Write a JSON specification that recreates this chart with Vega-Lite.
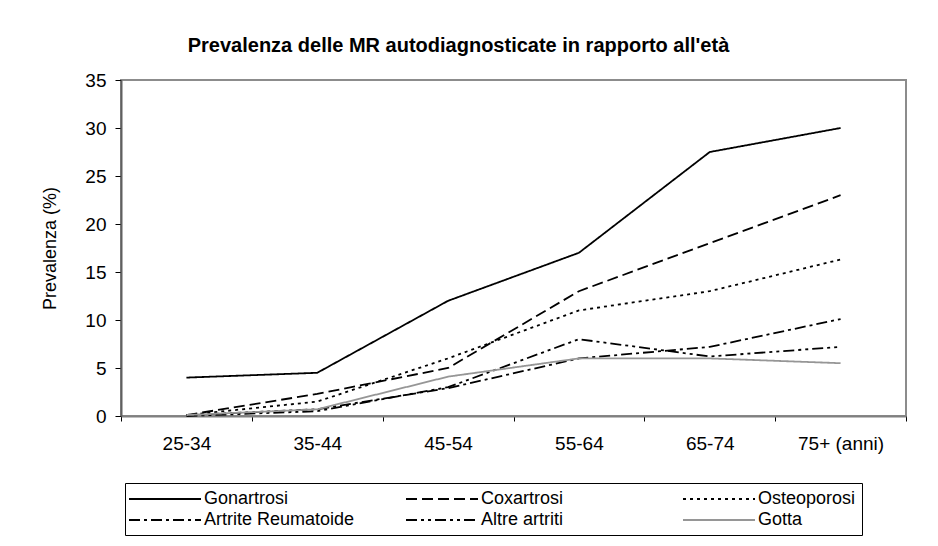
{
  "$schema": "https://vega.github.io/schema/vega-lite/v6.json",
  "width": 785,
  "height": 336,
  "autosize": "none",
  "padding": {"left": 121, "top": 80, "right": 32, "bottom": 130},
  "background": "white",
  "title": {
    "text": "Prevalenza delle MR autodiagnosticate in rapporto all'età",
    "font": "Liberation Sans",
    "fontSize": 20,
    "fontWeight": "bold",
    "color": "#000",
    "anchor": "middle",
    "dx": -55,
    "offset": 15
  },
  "data": {
    "values": [
      {"age": "25-34", "serie": "Gonartrosi", "value": 4.0},
      {"age": "35-44", "serie": "Gonartrosi", "value": 4.5},
      {"age": "45-54", "serie": "Gonartrosi", "value": 12.0},
      {"age": "55-64", "serie": "Gonartrosi", "value": 17.0},
      {"age": "65-74", "serie": "Gonartrosi", "value": 27.5},
      {"age": "75+ (anni)", "serie": "Gonartrosi", "value": 30.0},
      {"age": "25-34", "serie": "Coxartrosi", "value": 0.1},
      {"age": "35-44", "serie": "Coxartrosi", "value": 2.3},
      {"age": "45-54", "serie": "Coxartrosi", "value": 5.0},
      {"age": "55-64", "serie": "Coxartrosi", "value": 13.0},
      {"age": "65-74", "serie": "Coxartrosi", "value": 18.0},
      {"age": "75+ (anni)", "serie": "Coxartrosi", "value": 23.0},
      {"age": "25-34", "serie": "Osteoporosi", "value": 0.1},
      {"age": "35-44", "serie": "Osteoporosi", "value": 1.5},
      {"age": "45-54", "serie": "Osteoporosi", "value": 6.0},
      {"age": "55-64", "serie": "Osteoporosi", "value": 11.0},
      {"age": "65-74", "serie": "Osteoporosi", "value": 13.0},
      {"age": "75+ (anni)", "serie": "Osteoporosi", "value": 16.3},
      {"age": "25-34", "serie": "Artrite Reumatoide", "value": 0.1},
      {"age": "35-44", "serie": "Artrite Reumatoide", "value": 0.7},
      {"age": "45-54", "serie": "Artrite Reumatoide", "value": 2.9},
      {"age": "55-64", "serie": "Artrite Reumatoide", "value": 6.0},
      {"age": "65-74", "serie": "Artrite Reumatoide", "value": 7.2},
      {"age": "75+ (anni)", "serie": "Artrite Reumatoide", "value": 10.1},
      {"age": "25-34", "serie": "Altre artriti", "value": 0.0},
      {"age": "35-44", "serie": "Altre artriti", "value": 0.5},
      {"age": "45-54", "serie": "Altre artriti", "value": 3.0},
      {"age": "55-64", "serie": "Altre artriti", "value": 8.0},
      {"age": "65-74", "serie": "Altre artriti", "value": 6.2},
      {"age": "75+ (anni)", "serie": "Altre artriti", "value": 7.2},
      {"age": "25-34", "serie": "Gotta", "value": 0.1},
      {"age": "35-44", "serie": "Gotta", "value": 0.7},
      {"age": "45-54", "serie": "Gotta", "value": 4.1},
      {"age": "55-64", "serie": "Gotta", "value": 6.0},
      {"age": "65-74", "serie": "Gotta", "value": 6.0},
      {"age": "75+ (anni)", "serie": "Gotta", "value": 5.5}
    ]
  },
  "mark": {"type": "line", "strokeWidth": 1.8},
  "encoding": {
    "x": {
      "field": "age",
      "type": "ordinal",
      "sort": null,
      "bandPosition": 0.5,
      "scale": {"type": "band", "paddingInner": 0, "paddingOuter": 0},
      "axis": {
        "title": null,
        "labelAngle": 0,
        "tickBand": "extent",
        "tickSize": 5,
        "labelPadding": 13,
        "domainColor": "#808080",
        "domainWidth": 2,
        "tickColor": "#000"
      }
    },
    "y": {
      "field": "value",
      "type": "quantitative",
      "scale": {"domain": [0, 35], "nice": false},
      "axis": {
        "title": "Prevalenza (%)",
        "values": [0, 5, 10, 15, 20, 25, 30, 35],
        "grid": false,
        "tickSize": 6,
        "labelPadding": 9,
        "titlePadding": 25,
        "domainColor": "#606060",
        "domainWidth": 2,
        "tickColor": "#000"
      }
    },
    "color": {
      "field": "serie",
      "type": "nominal",
      "scale": {
        "domain": ["Gonartrosi", "Coxartrosi", "Osteoporosi", "Artrite Reumatoide", "Altre artriti", "Gotta"],
        "range": ["#000000", "#000000", "#000000", "#000000", "#000000", "#969696"]
      },
      "legend": {
        "title": null,
        "orient": "none",
        "legendX": 4,
        "legendY": 403,
        "direction": "horizontal",
        "columns": 3,
        "gridAlign": "all",
        "columnPadding": 47,
        "rowPadding": 2,
        "padding": 6,
        "strokeColor": "#000",
        "symbolType": "M-4,0H4",
        "symbolSize": 324,
        "symbolStrokeWidth": 1.8,
        "symbolOffset": 24,
        "labelOffset": 29,
        "labelFontSize": 18,
        "labelFont": "Liberation Sans",
        "labelColor": "#000",
        "labelLimit": 300,
        "labelExpr": "datum.label == 'Osteoporosi' ? datum.label + '\u00a0\u00a0\u00a0\u00a0\u00a0\u00a0\u00a0\u00a0' : datum.label"
      }
    },
    "strokeDash": {
      "field": "serie",
      "type": "nominal",
      "scale": {
        "domain": ["Gonartrosi", "Coxartrosi", "Osteoporosi", "Artrite Reumatoide", "Altre artriti", "Gotta"],
        "range": [[1, 0], [11, 5], [3, 4], [11, 4, 3, 4], [11, 4, 3, 4, 3, 4], [1, 0]]
      },
      "legend": null
    }
  },
  "config": {
    "font": "Liberation Sans",
    "view": {"stroke": "#8c8c8c", "strokeWidth": 2},
    "axis": {
      "labelFont": "Liberation Sans",
      "labelFontSize": 19,
      "labelColor": "#000",
      "titleFont": "Liberation Sans",
      "titleFontSize": 18,
      "titleFontWeight": "normal",
      "titleColor": "#000"
    }
  }
}
